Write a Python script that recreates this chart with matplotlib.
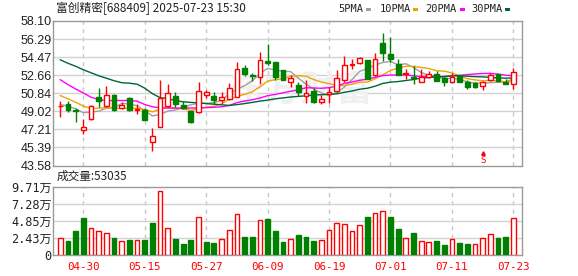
import numpy as np
import matplotlib
matplotlib.use("Agg")
import matplotlib.pyplot as plt
from matplotlib.patches import Rectangle

# ---------------- data ----------------
title_text = "富创精密[688409] 2025-07-23 15:30"
dates = ["04-25", "04-28", "04-29", "04-30", "05-06", "05-07", "05-08", "05-09",
         "05-12", "05-13", "05-14", "05-15", "05-16", "05-19", "05-20", "05-21",
         "05-22", "05-23", "05-26", "05-27", "05-28", "05-29", "05-30", "06-03",
         "06-04", "06-05", "06-06", "06-09", "06-10", "06-11", "06-12", "06-13",
         "06-16", "06-17", "06-18", "06-19", "06-20", "06-23", "06-24", "06-25",
         "06-26", "06-27", "06-30", "07-01", "07-02", "07-03", "07-04", "07-07",
         "07-08", "07-09", "07-10", "07-11", "07-14", "07-15", "07-16", "07-17",
         "07-18", "07-21", "07-22", "07-23"]
tick_dates = ["04-30", "05-15", "05-27", "06-09", "06-19", "07-01", "07-11", "07-23"]

opens = [49.55, 49.81, 49.11, 47.18, 48.25, 50.51, 49.54, 50.71, 49.31, 50.41,
         49.12, 49.11, 45.99, 47.48, 49.54, 50.61, 49.61, 49.05, 48.95, 50.71,
         50.58, 50.21, 50.28, 50.48, 53.37, 52.64, 52.44, 54.10, 53.93, 53.14,
         51.97, 51.64, 50.58, 51.04, 49.98, 50.77, 51.04, 52.14, 53.70, 53.87,
         54.20, 52.64, 55.86, 54.83, 53.80, 52.77, 52.50, 51.97, 52.47, 52.80,
         52.37, 51.94, 52.54, 51.97, 51.87, 51.61, 52.14, 52.74, 51.94, 51.81]
highs = [50.11, 50.11, 49.31, 48.22, 49.64, 51.37, 51.61, 50.75, 50.01, 50.51,
         49.81, 49.31, 47.38, 52.20, 51.80, 50.94, 50.11, 49.08, 51.94, 51.21,
         51.01, 51.01, 51.87, 53.97, 53.70, 52.87, 54.96, 55.79, 53.96, 53.20,
         52.70, 51.97, 52.14, 51.37, 50.68, 51.44, 53.20, 54.60, 54.27, 54.53,
         54.22, 54.86, 56.92, 56.53, 54.27, 53.27, 53.60, 53.27, 53.04, 53.04,
         52.54, 52.87, 52.60, 52.14, 51.97, 52.04, 52.87, 52.80, 52.27, 53.37]
lows = [48.45, 48.95, 47.95, 46.79, 48.18, 49.45, 49.48, 49.01, 49.28, 49.05,
        48.75, 48.15, 45.02, 47.48, 49.48, 49.48, 49.21, 47.88, 48.81, 50.38,
        49.81, 49.91, 50.14, 50.45, 52.54, 52.10, 51.77, 53.63, 52.14, 52.37,
        51.47, 50.54, 49.88, 49.84, 49.74, 49.88, 50.98, 51.94, 53.27, 53.80,
        52.25, 52.57, 54.13, 54.03, 52.68, 52.27, 51.77, 51.95, 52.37, 52.04,
        51.54, 51.87, 51.95, 51.31, 51.37, 51.21, 52.04, 52.04, 51.77, 51.27]
closes = [49.60, 49.15, 49.01, 47.42, 49.58, 50.04, 50.67, 49.15, 49.68, 49.20,
          49.24, 48.15, 46.55, 50.38, 50.91, 49.81, 49.38, 47.95, 51.07, 50.94,
          50.14, 50.44, 51.37, 53.27, 52.80, 52.57, 54.17, 53.87, 52.44, 52.20,
          52.37, 50.94, 50.87, 49.94, 50.28, 51.01, 52.37, 53.70, 53.77, 54.40,
          52.27, 54.27, 54.93, 54.30, 52.70, 52.84, 52.34, 52.47, 52.77, 52.10,
          51.94, 52.44, 51.97, 51.47, 51.50, 51.97, 52.64, 52.10, 51.77, 52.94]
volumes_wan = [2.37, 1.99, 3.41, 5.26, 3.79, 3.41, 3.08, 2.42, 1.99, 2.13,
               2.09, 2.13, 4.55, 9.10, 3.79, 2.27, 1.56, 2.13, 5.36, 1.90,
               1.71, 2.23, 3.51, 5.92, 2.56, 2.56, 4.93, 5.12, 3.41, 1.90,
               2.23, 2.84, 2.56, 1.99, 2.13, 3.51, 4.55, 4.41, 3.41, 4.27,
               5.40, 5.97, 6.26, 5.40, 3.70, 2.37, 3.13, 1.99, 1.85, 1.99,
               1.42, 2.27, 1.71, 1.56, 1.52, 2.37, 2.94, 2.42, 2.56, 5.30]
first_bar_up = True   # first volume bar is red in the reference
last_volume = 53035

# moving-average values at the start of the window
ma5_lead = [49.71, 49.54, 49.28, 48.88]
ma10_lead = [50.61, 50.28, 49.94, 49.54, 49.31, 49.35, 49.38, 49.35, 49.31]
ma20_lead = [52.20, 51.71, 51.27, 50.87, 50.44, 50.21, 50.11, 50.11, 50.11, 50.11,
             50.04, 49.71, 49.48, 49.38, 49.35, 49.35, 49.35, 49.35, 49.38]
ma30_lead = [54.20, 53.85, 53.55, 53.20, 52.90, 52.60, 52.35, 52.10, 51.90, 51.85,
             51.75, 51.35, 50.80, 50.40, 50.30, 50.10, 49.98, 49.92, 49.88, 49.80,
             49.74, 49.68, 49.62, 49.70, 49.80, 49.92, 50.05, 50.15, 50.28]

price_ticks = [43.58, 45.39, 47.21, 49.02, 50.84, 52.66, 54.47, 56.29, 58.10]
vol_ticks = [0, 2.43, 4.85, 7.28, 9.71]
vol_tick_labels = ["0", "2.43万", "4.85万", "7.28万", "9.71万"]
ma_names = ["5PMA", "10PMA", "20PMA", "30PMA"]
sell_mark_date = "07-17"

# ---------------- helpers ----------------
def moving_average(vals, n, lead):
    out = list(lead)
    for k in range(len(lead), len(vals)):
        out.append(float(np.mean(vals[k - n + 1:k + 1])))
    return np.array(out)

o = np.array(opens); h = np.array(highs); l = np.array(lows); c = np.array(closes)
vol = np.array(volumes_wan)
x = np.arange(len(dates))
ma5 = moving_average(c, 5, ma5_lead)
ma10 = moving_average(c, 10, ma10_lead)
ma20 = moving_average(c, 20, ma20_lead)
ma30 = moving_average(c, 30, ma30_lead)

RED = "#ff0000"
GREEN = "#008000"
MA_COLORS = ["#a0a0a0", "#f2a200", "#ff00ff", "#006633"]
SPINE = "#9a9a9a"
GRID = "#d2d2d2"

W, H = 578, 276
fig = plt.figure(figsize=(W / 100, H / 100), dpi=100)
fig.patch.set_facecolor("white")

def rect(lp, tp, rp, bp):
    return [lp / W, 1 - bp / H, (rp - lp) / W, (bp - tp) / H]

ax = fig.add_axes(rect(53, 21, 522, 165.5))
axv = fig.add_axes(rect(53, 187, 522, 255))

xmin, xmax = -0.95, 60.13
tick_pos = [dates.index(d) for d in tick_dates]

for a in (ax, axv):
    a.set_xlim(xmin, xmax)
    a.set_facecolor("white")
    for s in a.spines.values():
        s.set_color(SPINE)
        s.set_linewidth(1.0)
    a.set_xticks([])
    for tp in tick_pos:
        a.axvline(tp, color="#c8c8c8", lw=1.0, ls=(0, (3, 3)), zorder=0.5)

# ---------------- price panel ----------------
ax.set_ylim(price_ticks[0], price_ticks[-1])
for pt in price_ticks[1:-1]:
    ax.axhline(pt, color=GRID, lw=1.0, zorder=0.5)
ax.set_yticks(price_ticks)
ax.set_yticklabels([f"{v:.2f}" for v in price_ticks])
ax.tick_params(axis="y", length=0, pad=1, labelsize=9.0, labelcolor="#222222")
for t in ax.get_yticklabels():
    t.set_fontfamily("Liberation Sans")

# watermark
ax.text(0.53, 0.52, "东方财富", transform=ax.transAxes, ha="center", va="center",
        fontsize=26, fontweight="bold", color="#f0f0f3", zorder=0.6,
        family=["Noto Sans CJK SC"])

# moving averages
for m, col in zip([ma5, ma10, ma20, ma30], MA_COLORS):
    ax.plot(x, m, color=col, lw=1.0, zorder=2)

bw = 0.62
for i in range(len(x)):
    up = c[i] >= o[i]
    col = RED if up else GREEN
    ax.vlines(x[i], l[i], h[i], color=col, lw=1.0, zorder=3)
    bottom = min(o[i], c[i])
    height = max(abs(c[i] - o[i]), 0.03)
    ax.add_patch(Rectangle((x[i] - bw / 2, bottom), bw, height,
                           facecolor="white" if up else GREEN,
                           edgecolor=col, lw=1.0, zorder=4))

# sell marker
sx = dates.index(sell_mark_date)
ax.text(sx, 44.12, "S", color=RED, fontsize=6.5, ha="center", va="center",
        family="DejaVu Sans Mono", zorder=5)
ax.plot([sx], [44.85], marker="^", color=RED, markersize=2.5, zorder=5)

# ---------------- volume panel ----------------
vol_up = np.r_[first_bar_up, np.diff(c) >= 0]
axv.set_ylim(vol_ticks[0], vol_ticks[-1])
for vt in vol_ticks[1:-1]:
    axv.axhline(vt, color=GRID, lw=1.0, zorder=0.5)
axv.bar(x, vol, width=bw,
        color=["white" if u else GREEN for u in vol_up],
        edgecolor=[RED if u else GREEN for u in vol_up], lw=1.0, zorder=3)
axv.set_yticks(vol_ticks)
axv.set_yticklabels(vol_tick_labels)
axv.tick_params(axis="y", length=0, pad=1, labelsize=8.6, labelcolor="#222222")
for t in axv.get_yticklabels():
    t.set_fontfamily(["DejaVu Sans Mono", "Noto Sans CJK SC"])

axv.set_xticks(tick_pos)
axv.set_xticklabels(tick_dates)
axv.tick_params(axis="x", length=0, pad=5, labelsize=7.8, labelcolor=RED)
for t in axv.get_xticklabels():
    t.set_fontfamily("DejaVu Sans Mono")

# ---------------- header texts ----------------
fig.text(56 / W, 1 - 8 / H, title_text, ha="left", va="center", fontsize=8.5,
         color="#222222", family=["Noto Sans CJK SC", "DejaVu Sans"])
fig.text(57 / W, 1 - 176.5 / H, f"成交量:{last_volume}", ha="left", va="center",
         fontsize=8.4, color="#222222", family=["Noto Sans CJK SC", "DejaVu Sans"])

leg_x = [338, 380, 425, 471.7]
for name, lx in zip(ma_names, leg_x):
    fig.text(lx / W, 1 - 9 / H, name, ha="left", va="center", fontsize=7.5,
             color="#222222", family="DejaVu Sans Mono")
leg_sq = [366, 413.3, 460, 505]
for col, sxp in zip(MA_COLORS, leg_sq):
    fig.patches.append(Rectangle((sxp / W, 1 - 11 / H), 4.7 / W, 3.5 / H,
                                 transform=fig.transFigure, facecolor=col,
                                 edgecolor="none"))

fig.savefig("out.png", dpi=100, facecolor="white")
